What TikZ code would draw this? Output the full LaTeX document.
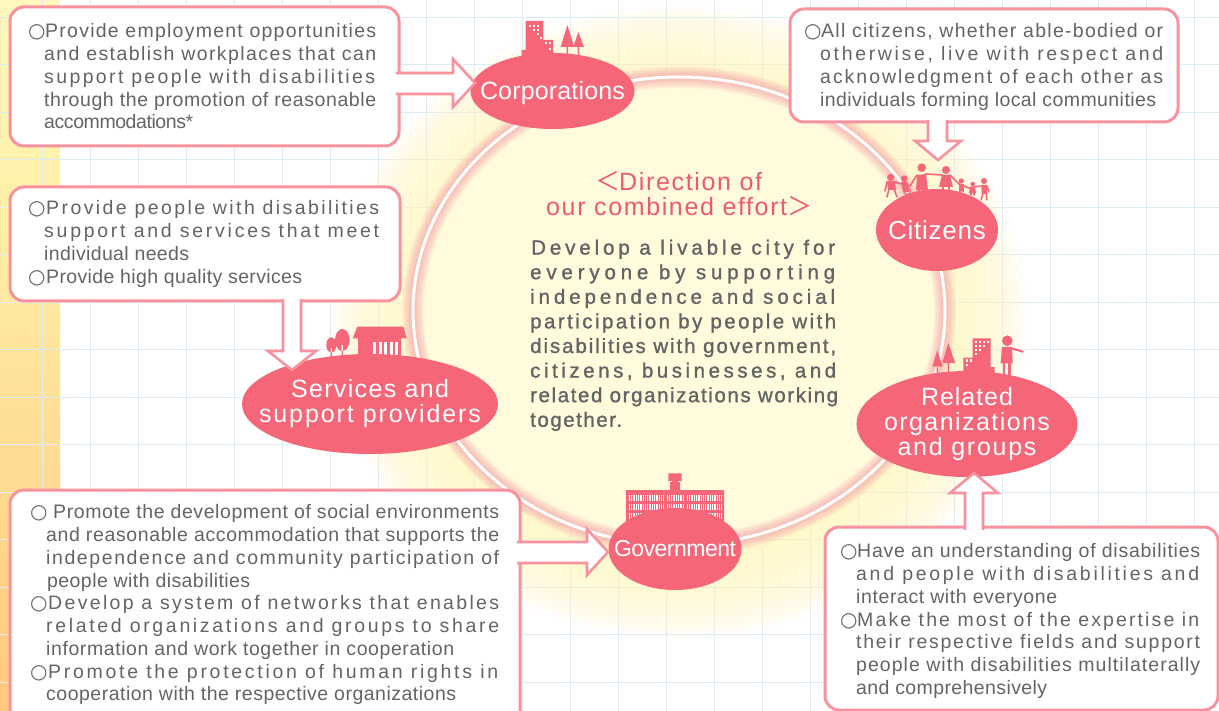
\documentclass[tikz,border=0pt]{standalone}
\usepackage{fontspec}
\usetikzlibrary{calc,shapes.geometric}
\setmainfont{Liberation Sans}
\newfontfamily\symf{DejaVu Sans}
\newfontfamily\cjkf{Noto Sans CJK JP}
\newfontfamily\medf[FakeBold=1.2]{Liberation Sans}
\definecolor{pk}{HTML}{F46678}
\definecolor{bd}{HTML}{F8929E}
\definecolor{txt}{HTML}{646464}
\definecolor{hd}{HTML}{EC5A70}
\definecolor{grd}{HTML}{DDEBF3}
\definecolor{bandA}{HTML}{FFF7BE}
\definecolor{bandB}{HTML}{FFF0A8}
\definecolor{bandC}{HTML}{FFC87E}
\definecolor{glowY}{HTML}{FFF9CC}
\definecolor{inner}{HTML}{FFFBDC}
\definecolor{glowP}{HTML}{F59AA6}
\newlength\mywa\newlength\mywb
% fit text to a target width (pt) by letter spacing, measured at two spacings
\makeatletter
\newcommand\fit[2]{{%
 \settowidth\mywa{\addfontfeature{LetterSpace=2}#2}%
 \settowidth\mywb{\addfontfeature{LetterSpace=12}#2}%
 \pgfmathsetmacro\lsp{2+10*(#1-\strip@pt\mywa)/(\strip@pt\mywb-\strip@pt\mywa)}%
 \addfontfeature{LetterSpace=\lsp}\makebox[#1pt][l]{#2}}}
\makeatother
\def\bx{0}
\newcommand\LL[3]{\hspace*{\dimexpr#1pt-\bx pt\relax}\fit{\the\numexpr#2-#1\relax}{#3}}
\newcommand\BL[4]{\hspace*{\dimexpr#1pt-\bx pt\relax}\makebox[0pt][l]{\symf\fontsize{20}{20}\selectfont ○}\hspace*{\dimexpr#2pt-#1pt\relax}\fit{\the\numexpr#3-#2\relax}{#4}}
\tikzset{
 x=1pt,y=-1pt,
 box/.style={draw=bd,line width=3pt,fill=white,rounded corners=14pt,inner sep=0pt},
 callout/.style={draw=bd,line width=2.6pt,fill=white,line join=miter},
 lines/.style={anchor=north west,inner sep=0pt,align=left,text=txt,font=\fontsize{19.5}{22.75}\selectfont},
 actor/.style={ellipse,fill=pk,inner sep=0pt,outer sep=0pt},
 atext/.style={text=white,align=center,inner sep=0pt,font=\fontsize{25}{25}\selectfont},
 ic/.style={fill=pk,draw=none},
 wh/.style={fill=white,draw=none},
 limb/.style={draw=pk,line cap=round,line join=round},
}
\begin{document}
\begin{tikzpicture}
\useasboundingbox (0,0) rectangle (1219,711);
\fill[white] (0,0) rectangle (1219,711);
% left band
\shade[top color=bandA,bottom color=bandB] (0,0) rectangle (60,200);
\shade[top color=bandB,bottom color=bandC] (0,200) rectangle (60,711);
% grid
\foreach \i in {0,...,24} \draw[grd,line width=.8pt] ({42+48*\i},0) -- ({42+48*\i},711);
\foreach \i in {0,...,14} \draw[grd,line width=.8pt] (0,{17+47.5*\i}) -- (1219,{17+47.5*\i});
% outer yellow glow
\foreach \i in {0,...,24}
  \fill[glowY,opacity=.09] (679,322) ellipse ({266+3.4*\i} and {234+3.4*\i});
\fill[inner] (679,311) ellipse (266 and 234);
% ring glow
\foreach \i in {0,...,9}
  \draw[glowP,opacity=.09,line width={2+2.2*\i}] (679,311) ellipse (266 and 234);
\draw[white,line width=3pt] (679,311) ellipse (266 and 234);
% boxes
\node[box,minimum width=389pt,minimum height=139pt] (b1) at (204.5,76.5) {};
\node[box,minimum width=388pt,minimum height=113pt] (b2) at (984,65.5) {};
\node[box,minimum width=390pt,minimum height=114pt] (b3) at (205,244) {};
\node[box,minimum width=510pt,minimum height=240pt] (b4) at (265,610) {};
\node[box,minimum width=393pt,minimum height=183pt] (b5) at (1021.5,618.5) {};
% icons: corporations
\fill[ic] (525.7,21) rectangle (543.3,50) (543,40) rectangle (553,53) (521.7,50) rectangle (548,57);
\foreach \p/\q in {529/25,533/25,537/25,533/29,537/29,537/33,540/37,545/42,549/42,549/48}
  \fill[wh] (\p,\q) rectangle ++(2.2,2.4);
\fill[ic] (567.3,25) -- (574.3,47) -- (560.7,47) -- cycle (566.5,47) rectangle (568.2,55);
\fill[ic] (578.3,32) -- (584,47) -- (573.3,47) -- cycle (577.5,47) rectangle (579.1,56);
% icons: citizens
\foreach \x/\y/\r in {890.7/177.3/3.6,904.3/178.7/3.4,921.7/167.7/4.3,946/170/4,961.3/181/2.6,972.7/184/2.3,984/181/3}
  \fill[ic] (\x,\y) circle (\r);
\fill[ic] (917,175) -- (926,174) -- (928,190) -- (916,190) -- cycle;
\fill[ic] (942,175) -- (950,175) -- (953,187) -- (939,187) -- cycle;
\draw[limb,line width=1.6pt] (917,175) -- (910,186) (926,174) -- (942,175) (950,175) -- (959,184) -- (969,188) -- (980,186);
\draw[limb,line width=2.2pt] (943,186) -- (943,190) (949,186) -- (949,190) (919,188) -- (919,192) (925,188) -- (925,192);
\fill[ic] (887,181) -- (895,181) -- (896,190) -- (888,190) -- cycle;
\draw[limb,line width=1.6pt] (887,182) -- (885,191) (895,182) -- (902,184) -- (910,186) (889,189) -- (887,197) (894,189) -- (897,197);
\fill[ic] (901,182) -- (908,182) -- (909,192) -- (903,192) -- cycle;
\draw[limb,line width=1pt] (907,191) circle (3.5);
\fill[ic] (959,184) rectangle (964,191);
\draw[limb,line width=1.4pt] (960,190) -- (960,191.5) (963,190) -- (963,191.5);
\fill[ic] (970,187) -- (975,187) -- (976,193) -- (969,193) -- cycle;
\draw[limb,line width=1.2pt] (971,192) -- (971,195) (974,192) -- (974,195);
\fill[ic] (981,185) -- (987,185) -- (987,194) -- (982,194) -- cycle;
\draw[limb,line width=1.5pt] (987,186) -- (989,192) (983,193) -- (981,200) (986,193) -- (987,200);
% icons: related
\fill[ic] (948.3,342.7) -- (955,363) -- (942.3,363) -- cycle (947.5,363) rectangle (949.2,373);
\fill[ic] (937.3,350) -- (942.7,366.7) -- (932.3,366.7) -- cycle (936.5,366) rectangle (938.2,373);
\fill[ic] (972.7,338.5) rectangle (990.7,373) (963.3,357.7) rectangle (973,373) (990,367) rectangle (994.7,373);
\foreach \p/\q in {975/341,979/341,983/341,987/341,975/345,979/345,983/345,975/349,979/349,975/353,966/359.5,970/359.5,966/364}
  \fill[wh] (\p,\q) rectangle ++(2.3,2.4);
\fill[ic] (1007.3,340.7) circle (5.3);
\fill[ic] (1002,347) -- (1012,347) -- (1012.7,363.5) -- (1000.5,363.5) -- cycle;
\draw[limb,line width=2pt] (1011,348) -- (1022.7,351.7);
\draw[limb,line width=2.6pt,line cap=butt] (1004,363) -- (1004,375) (1009.5,363) -- (1009.5,375);
% icons: services
\fill[ic] (352.7,338.3) -- (357.3,326.7) -- (403.3,326.7) -- (406.7,338.3) -- cycle;
\fill[ic] (358.3,338) rectangle (400.7,360);
\foreach \p in {373.3,379.3,384.3,390,395.3} \fill[wh] (\p,341.7) rectangle ++(2.6,14);
\fill[ic] (342.3,340) ellipse (7.3 and 11) (341.5,345) rectangle (343.1,360);
\fill[ic] (331.3,345) ellipse (5 and 7.7) (330.5,348) rectangle (332.1,361);
% icons: government
\fill[ic] (626,490) rectangle (724,525) (668.3,473.3) rectangle (681.7,481.5) (670,481) rectangle (680,491);
\draw[white,line width=.8pt] (669,481.5) -- (672,481.5) (678,481.5) -- (681,481.5);
\foreach \y in {497.7,506.7,515.5}
  \draw[white,line width=6pt,dash pattern=on 1.3pt off 1pt]
   (628.7,\y) -- (664,\y) (666.5,\y) -- (684,\y) (686.7,\y) -- (721.3,\y);
% actors
\node[actor,minimum width=164pt,minimum height=76pt,label={[atext,yshift=-2pt]center:\fit{145}{Corporations}}] (corp) at (552.5,91) {};
\node[actor,minimum width=122pt,minimum height=82pt,label={[atext,font=\fontsize{26}{26}\selectfont]center:\fit{98}{Citizens}}] (cit) at (937,230) {};
\node[actor,minimum width=256pt,minimum height=100pt,label={[atext]center:\fit{158}{Services and}\\\fit{222}{support providers}}] (svc) at (370,404) {};
\node[actor,minimum width=221pt,minimum height=106pt,label={[atext]center:\fit{92}{Related}\\\fit{166}{organizations}\\\fit{139}{and groups}}] (rel) at (967,424) {};
\node[actor,minimum width=133pt,minimum height=82pt,label={[atext,font=\fontsize{23}{23}\selectfont]center:\fit{122}{Government}}] (gov) at (675,549) {};
% callout arrows
\coordinate (t1) at (475,83);
\coordinate (t2) at (938,160);
\coordinate (t3) at (292,370);
\coordinate (t4) at (608,552);
\coordinate (t5) at (974,473);
\draw[callout] (396,73) -- (453,73) -- (453,59) -- (t1) -- (453,107) -- (453,94) -- (396,94);
\draw[callout] (928,120) -- (928,141) -- (915,141) -- (t2) -- (961,141) -- (947,141) -- (947,120);
\draw[callout] (283,299) -- (283,351) -- (268,351) -- (t3) -- (316,351) -- (301,351) -- (301,299);
\draw[callout] (517,542) -- (587,542) -- (587,529) -- (t4) -- (587,575) -- (587,563) -- (517,563);
\draw[callout] (965,530) -- (965,493) -- (950,493) -- (t5) -- (998,493) -- (983,493) -- (983,530);
% box text
\def\bx{28}
\node[lines] (t1a) at (28,23.5) {\BL{28}{45}{376}{Provide employment opportunities}\\
 \LL{44}{376}{and establish workplaces that can}\\
 \LL{44}{375}{support people with disabilities}\\
 \LL{44}{376}{through the promotion of reasonable}\\
 \LL{44}{193}{accommodations*}};
\def\bx{804}
\node[lines] (t2a) at (804,23.5) {\BL{804}{821}{1163}{All citizens, whether able-bodied or}\\
 \LL{820}{1163}{otherwise, live with respect and}\\
 \LL{820}{1163}{acknowledgment of each other as}\\
 \LL{820}{1156}{individuals forming local communities}};
\def\bx{28}
\node[lines] (t3a) at (28,200.5) {\BL{28}{46}{379}{Provide people with disabilities}\\
 \LL{44}{379}{support and services that meet}\\
 \LL{44}{189}{individual needs}\\
 \BL{28}{46}{302}{Provide high quality services}};
\def\bx{30}
\node[lines] (t4a) at (30,504.5) {\BL{30}{53}{499}{Promote the development of social environments}\\
 \LL{46}{499}{and reasonable accommodation that supports the}\\
 \LL{46}{499}{independence and community participation of}\\
 \LL{47}{250}{people with disabilities}\\
 \BL{30}{48}{499}{Develop a system of networks that enables}\\
 \LL{46}{499}{related organizations and groups to share}\\
 \LL{46}{454}{information and work together in cooperation}\\
 \BL{30}{48}{498}{Promote the protection of human rights in}\\
 \LL{46}{456}{cooperation with the respective organizations}};
\def\bx{840}
\node[lines] (t5a) at (840,543.5) {\BL{840}{857}{1200}{Have an understanding of disabilities}\\
 \LL{856}{1199}{and people with disabilities and}\\
 \LL{856}{1057}{interact with everyone}\\
 \BL{840}{857}{1199}{Make the most of the expertise in}\\
 \LL{856}{1200}{their respective fields and support}\\
 \LL{856}{1200}{people with disabilities multilaterally}\\
 \LL{856}{1047}{and comprehensively}};
% centre
\node[anchor=north west,text=hd,align=left,inner sep=0pt,font=\fontsize{25}{25}\selectfont] (dir) at (595,171.5)
 {{\cjkf ＜}\hspace*{-1pt}\fit{143}{Direction of}};
\node[anchor=north west,text=hd,align=left,inner sep=0pt,font=\fontsize{25}{25}\selectfont] (dir2) at (546,196)
 {\fit{241}{our combined effort}{\cjkf ＞}};
\def\bx{530}
\node[lines,font=\fontsize{20.5}{24.6}\selectfont\medf,text=txt] (para) at (530,239.5) {\LL{531}{835}{Develop a livable city for}\\
 \LL{530}{835}{everyone by supporting}\\
 \LL{530}{835}{independence and social}\\
 \LL{530}{836}{participation by people with}\\
 \LL{530}{836}{disabilities with government,}\\
 \LL{530}{836}{citizens, businesses, and}\\
 \LL{530}{838}{related organizations working}\\
 \LL{530}{622}{together.}};
\end{tikzpicture}
\end{document}
